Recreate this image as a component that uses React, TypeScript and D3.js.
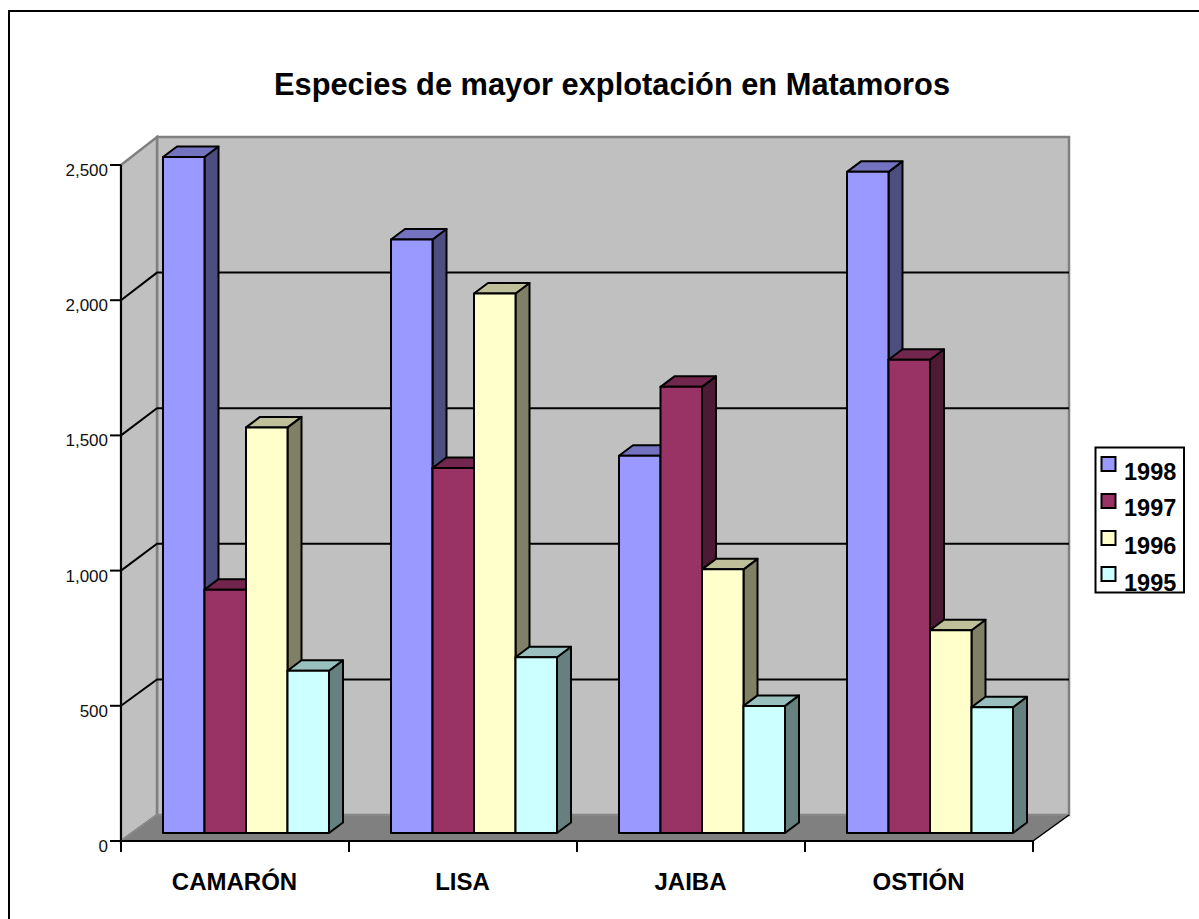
import React from "react";
import * as d3 from "d3";

const categories = ["CAMARÓN", "LISA", "JAIBA", "OSTIÓN"];
const seriesNames = ["1998", "1997", "1996", "1995"];
const values1998 = [2500, 2195, 1395, 2445];
const values1997 = [900, 1350, 1650, 1750];
const values1996 = [1500, 1995, 975, 750];
const values1995 = [600, 650, 470, 465];
const seriesValues = [values1998, values1997, values1996, values1995];
const frontColors = ["#9999ff", "#993366", "#ffffcc", "#ccffff"];
const yTicks = [0, 500, 1000, 1500, 2000, 2500];

const FONT = "'Liberation Sans', Arial, sans-serif";
const WIDTH = 1199;
const HEIGHT = 919;

// Front plane of the 3D box
const plotLeft = 121;
const plotRight = 1033;
const plotBottom = 841;
const plotTop = 165;
// Back wall of the box
const backLeft = 157;
const backRight = 1069;
const backBottom = 815;
const backTop = 137;
// Oblique offset for one bar's depth
const barDx = 14;
const barDy = -10.5;
const barBaseY = 833;
const barInset = 42;
const barWidth = 41.5;

const x = d3.scaleBand<string>().domain(categories).range([plotLeft, plotRight]);
const y = d3.scaleLinear().domain([0, 2500]).range([plotBottom, plotTop]);
const yBack = d3.scaleLinear().domain([0, 2500]).range([backBottom, backTop]);
const barHeight = d3.scaleLinear().domain([0, 2500]).range([0, 676]);
const fmt = d3.format(",");

const shade = (c: string, k: number) => {
  const r = d3.rgb(c);
  return d3.rgb(r.r * k, r.g * k, r.b * k).formatHex();
};
const poly = (pts: [number, number][]) => {
  const line = d3.line();
  return line(pts)! + "Z";
};

export default function App() {
  const legendY = [457, 494, 531, 567];
  const legendBase = [480, 516, 554, 591];

  return (
    <svg
      width={WIDTH}
      height={HEIGHT}
      style={{ position: "absolute", left: 0, top: 0, background: "#fff" }}
      fontFamily={FONT}
    >
      {/* Chart frame runs off the right and bottom edges */}
      <path d={`M9,${HEIGHT}V11H${WIDTH}`} fill="none" stroke="#000" strokeWidth={2} />

      <text x={612} y={94.5} textAnchor="middle" fontSize={30.8} fontWeight="bold">
        Especies de mayor explotación en Matamoros
      </text>

      {/* Walls and floor */}
      <path
        d={poly([[backLeft, backTop], [backRight, backTop], [backRight, backBottom], [backLeft, backBottom]])}
        fill="#c0c0c0"
        stroke="#808080"
        strokeWidth={2.5}
      />
      <path
        d={poly([[plotLeft, plotTop], [backLeft, backTop], [backLeft, backBottom], [plotLeft, plotBottom]])}
        fill="#c0c0c0"
        stroke="#808080"
        strokeWidth={2.5}
      />
      <path
        d={poly([[plotLeft, plotBottom], [backLeft, backBottom], [backRight, backBottom], [plotRight, plotBottom]])}
        fill="#808080"
        stroke="#909090"
        strokeWidth={1}
      />

      {/* Gridlines wrap from the left wall onto the back wall */}
      {yTicks.slice(1, -1).map((t) => (
        <path
          key={t}
          d={`M${plotLeft},${y(t)}L${backLeft},${yBack(t)}H${backRight}`}
          fill="none"
          stroke="#000"
          strokeWidth={2}
        />
      ))}

      {/* Axis lines, ticks and labels */}
      <line x1={plotLeft} x2={plotLeft} y1={plotTop} y2={plotBottom} stroke="#000" strokeWidth={2} />
      <line x1={plotLeft} x2={plotRight} y1={plotBottom} y2={plotBottom} stroke="#000" strokeWidth={2} />
      <line x1={plotRight} x2={backRight} y1={plotBottom} y2={backBottom} stroke="#000" strokeWidth={1.5} />
      {yTicks.map((t) => (
        <g key={t}>
          <line x1={plotLeft - 11} x2={plotLeft} y1={y(t)} y2={y(t)} stroke="#000" strokeWidth={2} />
          <text x={108} y={y(t) + 11} textAnchor="end" fontSize={17} fill="#111">
            {fmt(t)}
          </text>
        </g>
      ))}
      {[...categories.map((c) => x(c)!), plotRight].map((px) => (
        <line key={px} x1={px} x2={px} y1={plotBottom} y2={plotBottom + 11} stroke="#000" strokeWidth={2} />
      ))}
      {categories.map((c) => (
        <text
          key={c}
          x={x(c)! + x.bandwidth() / 2 - 0.5}
          y={889.5}
          textAnchor="middle"
          fontSize={24}
          fontWeight="bold"
        >
          {c}
        </text>
      ))}

      {/* Bars: painted left to right so each front hides its neighbour's side */}
      {categories.map((c, ci) => (
        <g key={c}>
          {seriesNames.map((s, si) => {
            const v = seriesValues[si][ci];
            const x0 = x(c)! + barInset + si * barWidth;
            const x1 = x0 + barWidth;
            const top = barBaseY - barHeight(v);
            const color = frontColors[si];
            return (
              <g key={s} stroke="#000" strokeWidth={2} strokeLinejoin="round">
                <path
                  d={poly([[x1, top], [x1 + barDx, top + barDy], [x1 + barDx, barBaseY + barDy], [x1, barBaseY]])}
                  fill={shade(color, 0.5)}
                />
                <path
                  d={poly([[x0, top], [x0 + barDx, top + barDy], [x1 + barDx, top + barDy], [x1, top]])}
                  fill={shade(color, 0.75)}
                />
                <rect x={x0} y={top} width={barWidth} height={barBaseY - top} fill={color} />
              </g>
            );
          })}
        </g>
      ))}

      {/* Legend */}
      <rect x={1095.5} y={447.5} width={88.5} height={145} fill="#fff" stroke="#000" strokeWidth={2} />
      {seriesNames.map((s, i) => (
        <g key={s}>
          <rect x={1101.5} y={legendY[i]} width={14} height={14} fill={frontColors[i]} stroke="#000" strokeWidth={2} />
          <text x={1124} y={legendBase[i]} fontSize={23.5} fontWeight="bold">
            {s}
          </text>
        </g>
      ))}
    </svg>
  );
}
